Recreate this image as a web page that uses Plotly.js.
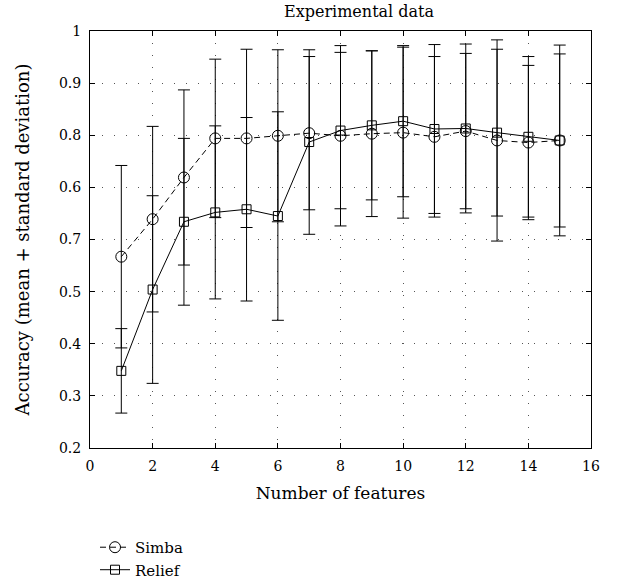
<!DOCTYPE html>
<html>
<head>
<meta charset="utf-8">
<script src="https://cdn.plot.ly/plotly-3.0.1.min.js"></script>
<style>html,body{margin:0;padding:0;background:#fff;}#chart{width:631px;height:588px;}</style>
</head>
<body>
<div id="chart"></div>
<script>
const features = [1,2,3,4,5,6,7,8,9,10,11,12,13,14,15];
const simbaMean = [0.567,0.639,0.719,0.794,0.794,0.799,0.804,0.799,0.803,0.805,0.797,0.808,0.790,0.786,0.790];
const simbaStd  = [0.175,0.178,0.168,0.152,0.171,0.165,0.147,0.173,0.159,0.164,0.154,0.149,0.193,0.148,0.166];
const reliefMean = [0.348,0.504,0.634,0.652,0.658,0.645,0.787,0.809,0.819,0.827,0.812,0.813,0.805,0.797,0.790];
const reliefStd  = [0.081,0.180,0.160,0.166,0.176,0.200,0.177,0.150,0.143,0.145,0.162,0.162,0.160,0.154,0.183];
const yTickVals = [0.2,0.3,0.4,0.5,0.6,0.7,0.8,0.9,1.0];
const yTickText = ["0.2","0.3","0.4","0.5","0.7","0.6","0.8","0.9","1"];
const xTickVals = [0,2,4,6,8,10,12,14,16];

const FONT = "DejaVu Serif, serif";

const traces = [
  {
    x: features, y: simbaMean, name: "Simba", type: "scatter", mode: "lines+markers",
    line: {color: "#000", width: 1, dash: "6px,4px"},
    marker: {symbol: "circle-open", size: 11, color: "#000", line: {width: 1, color: "#000"}},
    error_y: {type: "data", array: simbaStd, visible: true, color: "#000", thickness: 1, width: 6}
  },
  {
    x: features, y: reliefMean, name: "Relief", type: "scatter", mode: "lines+markers",
    line: {color: "#000", width: 1},
    marker: {symbol: "square-open", size: 9, color: "#000", line: {width: 1, color: "#000"}},
    error_y: {type: "data", array: reliefStd, visible: true, color: "#000", thickness: 1, width: 6}
  }
];

const axisCommon = {
  showline: true, linecolor: "#000", linewidth: 1, mirror: "ticks",
  ticks: "inside", ticklen: 5, tickcolor: "#000", tickwidth: 1,
  showgrid: true, gridcolor: "#555", gridwidth: 1, griddash: "1px,11px",
  zeroline: false, ticklabelstandoff: 5,
  tickfont: {family: FONT, size: 14, color: "#000"}
};

const layout = {
  width: 631, height: 588,
  margin: {l: 90, r: 40, t: 31, b: 140},
  paper_bgcolor: "#fff", plot_bgcolor: "#fff",
  font: {family: FONT, color: "#000", size: 15},
  title: {text: "Experimental data", font: {family: FONT, size: 16, color: "#000"}, x: 0.569, xanchor: "center", y: 0.99, yanchor: "top"},
  xaxis: Object.assign({}, axisCommon, {
    range: [0, 16], tickvals: xTickVals, ticktext: xTickVals.map(String),
    title: {text: "Number of features", font: {family: FONT, size: 17, color: "#000"}, standoff: 14}
  }),
  yaxis: Object.assign({}, axisCommon, {
    range: [0.2, 1.0], tickvals: yTickVals, ticktext: yTickText,
    title: {text: "Accuracy (mean + standard deviation)", font: {family: FONT, size: 18, color: "#000"}, standoff: 24}
  }),
  showlegend: true,
  legend: {xref: "paper", yref: "container", x: 0.01, xanchor: "left", y: 0.097, yanchor: "top", bgcolor: "rgba(0,0,0,0)",
           font: {family: FONT, size: 15, color: "#000"}, tracegroupgap: 0, itemwidth: 30}
};

Plotly.newPlot("chart", traces, layout, {displayModeBar: false, staticPlot: true});
</script>
</body>
</html>
